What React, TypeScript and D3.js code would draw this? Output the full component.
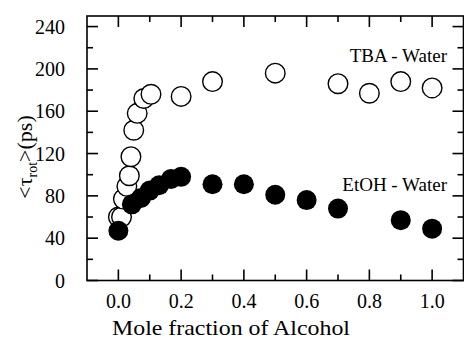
import React from 'react';
import * as d3 from 'd3';

// TBA - Water (open circles)
const tbaX = [0, 0.01, 0.016, 0.027, 0.035, 0.04, 0.049, 0.06, 0.081, 0.104, 0.2, 0.3, 0.5, 0.7, 0.8, 0.9, 1.0];
const tbaY = [60, 60, 77, 89, 99, 117, 142, 158, 172, 176, 174, 188, 196, 186, 177, 188, 182];

// EtOH - Water (filled circles)
const etohX = [0, 0.043, 0.072, 0.1, 0.13, 0.168, 0.2, 0.3, 0.4, 0.5, 0.6, 0.7, 0.9, 1.0];
const etohY = [47, 72, 78, 85, 90, 96, 98, 91, 91, 81, 76, 68, 57, 49];

const xTicks = [0, 0.2, 0.4, 0.6, 0.8, 1.0];
const xMinor = [0.1, 0.3, 0.5, 0.7, 0.9];
const yTicks = [0, 40, 80, 120, 160, 200, 240];
const yMinor = [20, 60, 100, 140, 180, 220];

const W = 464;
const H = 343;
const serif = { fontFamily: "'Liberation Serif'" };

const left = 87, right = 463.5, top = 16, bottom = 280.5;
const x = d3.scaleLinear().domain([-0.1, 1.1]).range([left, right]);
const y = d3.scaleLinear().domain([0, 250]).range([bottom, top]);

const App = () => {
  return (
    <svg width={W} height={H} style={{ position: 'absolute', left: 0, top: 0, background: '#fff' }}>
      <g stroke="#000" strokeWidth={1.6}>
        {xTicks.map(v => (
          <g key={'x' + v}>
            <line x1={x(v)} x2={x(v)} y1={bottom} y2={bottom - 11} />
            <line x1={x(v)} x2={x(v)} y1={top} y2={top + 11} />
          </g>
        ))}
        {xMinor.map(v => (
          <g key={'xm' + v}>
            <line x1={x(v)} x2={x(v)} y1={bottom} y2={bottom - 6} />
            <line x1={x(v)} x2={x(v)} y1={top} y2={top + 6} />
          </g>
        ))}
        {yTicks.map(v => (
          <g key={'y' + v}>
            <line x1={left} x2={left + 11} y1={y(v)} y2={y(v)} />
            <line x1={right} x2={right - 11} y1={y(v)} y2={y(v)} />
          </g>
        ))}
        {yMinor.map(v => (
          <g key={'ym' + v}>
            <line x1={left} x2={left + 6} y1={y(v)} y2={y(v)} />
            <line x1={right} x2={right - 6} y1={y(v)} y2={y(v)} />
          </g>
        ))}
        <rect x={left} y={top} width={right - left} height={bottom - top} fill="none" />
      </g>

      {xTicks.map(v => (
        <text key={'xl' + v} x={x(v)} y={308} textAnchor="middle" fontSize={20} style={serif}>
          {v.toFixed(1)}
        </text>
      ))}
      {yTicks.map(v => (
        <text key={'yl' + v} x={65} y={y(v) + 7} textAnchor="end" fontSize={20} style={serif}>
          {v}
        </text>
      ))}

      <text x={231} y={335} textAnchor="middle" fontSize={22} style={serif}
        textLength={238} lengthAdjust="spacingAndGlyphs">
        Mole fraction of Alcohol
      </text>
      <text transform="translate(32,157) rotate(-90)" textAnchor="middle" fontSize={22} style={serif}>
        <tspan>{'<τ'}</tspan>
        <tspan fontSize={14} dy={5}>rot</tspan>
        <tspan dy={-5}>{'>(ps)'}</tspan>
      </text>

      <g>
        {tbaX.map((v, i) => (
          <circle key={'t' + i} cx={x(v)} cy={y(tbaY[i])} r={9.8} fill="#fff" stroke="#000" strokeWidth={1.4} />
        ))}
      </g>
      <g>
        {etohX.map((v, i) => (
          <circle key={'e' + i} cx={x(v)} cy={y(etohY[i])} r={10} fill="#000" />
        ))}
      </g>

      <text x={447} y={62} textAnchor="end" fontSize={19} style={serif}>TBA - Water</text>
      <text x={447} y={191} textAnchor="end" fontSize={19} style={serif}>EtOH - Water</text>
    </svg>
  );
};

export default App;
